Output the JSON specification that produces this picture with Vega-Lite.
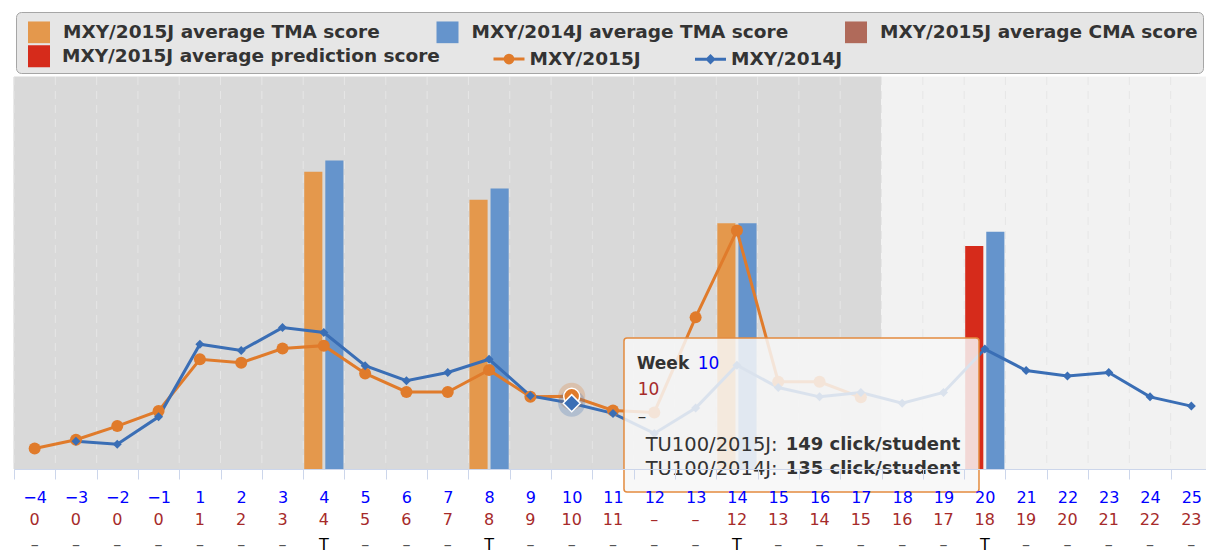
{
  "$schema": "https://vega.github.io/schema/vega-lite/v6.json",
  "width": 1198,
  "height": 392,
  "autosize": {"type": "none"},
  "padding": {"left": 14, "top": 77, "right": -6, "bottom": 81},
  "background": "white",
  "config": {"view": {"stroke": null}, "font": "DejaVu Sans", "text": {"font": "DejaVu Sans"}},
  "datasets": {
    "weeks": [
      {"week": -4, "phase": "past"}, {"week": -3, "phase": "past"}, {"week": -2, "phase": "past"}, {"week": -1, "phase": "past"},
      {"week": 1, "phase": "past"}, {"week": 2, "phase": "past"}, {"week": 3, "phase": "past"}, {"week": 4, "phase": "past"},
      {"week": 5, "phase": "past"}, {"week": 6, "phase": "past"}, {"week": 7, "phase": "past"}, {"week": 8, "phase": "past"},
      {"week": 9, "phase": "past"}, {"week": 10, "phase": "past"}, {"week": 11, "phase": "past"}, {"week": 12, "phase": "past"},
      {"week": 13, "phase": "past"}, {"week": 14, "phase": "past"}, {"week": 15, "phase": "past"}, {"week": 16, "phase": "past"},
      {"week": 17, "phase": "past"}, {"week": 18, "phase": "future"}, {"week": 19, "phase": "future"}, {"week": 20, "phase": "future"},
      {"week": 21, "phase": "future"}, {"week": 22, "phase": "future"}, {"week": 23, "phase": "future"}, {"week": 24, "phase": "future"},
      {"week": 25, "phase": "future"}
    ],
    "clicks": [
      {"week": -4, "series": "MXY/2015J", "clicks": 42},
      {"week": -3, "series": "MXY/2015J", "clicks": 60},
      {"week": -2, "series": "MXY/2015J", "clicks": 88},
      {"week": -1, "series": "MXY/2015J", "clicks": 119},
      {"week": 1, "series": "MXY/2015J", "clicks": 225},
      {"week": 2, "series": "MXY/2015J", "clicks": 218},
      {"week": 3, "series": "MXY/2015J", "clicks": 247},
      {"week": 4, "series": "MXY/2015J", "clicks": 253},
      {"week": 5, "series": "MXY/2015J", "clicks": 196},
      {"week": 6, "series": "MXY/2015J", "clicks": 158},
      {"week": 7, "series": "MXY/2015J", "clicks": 158},
      {"week": 8, "series": "MXY/2015J", "clicks": 203},
      {"week": 9, "series": "MXY/2015J", "clicks": 148},
      {"week": 10, "series": "MXY/2015J", "clicks": 149},
      {"week": 11, "series": "MXY/2015J", "clicks": 120},
      {"week": 12, "series": "MXY/2015J", "clicks": 116},
      {"week": 13, "series": "MXY/2015J", "clicks": 311},
      {"week": 14, "series": "MXY/2015J", "clicks": 489},
      {"week": 15, "series": "MXY/2015J", "clicks": 179},
      {"week": 16, "series": "MXY/2015J", "clicks": 179},
      {"week": 17, "series": "MXY/2015J", "clicks": 147},
      {"week": -3, "series": "MXY/2014J", "clicks": 57},
      {"week": -2, "series": "MXY/2014J", "clicks": 51},
      {"week": -1, "series": "MXY/2014J", "clicks": 107},
      {"week": 1, "series": "MXY/2014J", "clicks": 256},
      {"week": 2, "series": "MXY/2014J", "clicks": 243},
      {"week": 3, "series": "MXY/2014J", "clicks": 290},
      {"week": 4, "series": "MXY/2014J", "clicks": 280},
      {"week": 5, "series": "MXY/2014J", "clicks": 212},
      {"week": 6, "series": "MXY/2014J", "clicks": 181},
      {"week": 7, "series": "MXY/2014J", "clicks": 198},
      {"week": 8, "series": "MXY/2014J", "clicks": 225},
      {"week": 9, "series": "MXY/2014J", "clicks": 150},
      {"week": 10, "series": "MXY/2014J", "clicks": 135},
      {"week": 11, "series": "MXY/2014J", "clicks": 114},
      {"week": 12, "series": "MXY/2014J", "clicks": 73},
      {"week": 13, "series": "MXY/2014J", "clicks": 125},
      {"week": 14, "series": "MXY/2014J", "clicks": 213},
      {"week": 15, "series": "MXY/2014J", "clicks": 167},
      {"week": 16, "series": "MXY/2014J", "clicks": 148},
      {"week": 17, "series": "MXY/2014J", "clicks": 157},
      {"week": 18, "series": "MXY/2014J", "clicks": 135},
      {"week": 19, "series": "MXY/2014J", "clicks": 157},
      {"week": 20, "series": "MXY/2014J", "clicks": 246},
      {"week": 21, "series": "MXY/2014J", "clicks": 202},
      {"week": 22, "series": "MXY/2014J", "clicks": 191},
      {"week": 23, "series": "MXY/2014J", "clicks": 198},
      {"week": 24, "series": "MXY/2014J", "clicks": 148},
      {"week": 25, "series": "MXY/2014J", "clicks": 129}
    ],
    "bars": [
      {"week": 4, "series": "MXY/2015J average TMA score", "year": "2015J", "score": 76.2},
      {"week": 4, "series": "MXY/2014J average TMA score", "year": "2014J", "score": 79.1},
      {"week": 8, "series": "MXY/2015J average TMA score", "year": "2015J", "score": 69.0},
      {"week": 8, "series": "MXY/2014J average TMA score", "year": "2014J", "score": 71.9},
      {"week": 14, "series": "MXY/2015J average TMA score", "year": "2015J", "score": 63.0},
      {"week": 14, "series": "MXY/2014J average TMA score", "year": "2014J", "score": 63.0},
      {"week": 20, "series": "MXY/2015J average prediction score", "year": "2015J", "score": 57.2},
      {"week": 20, "series": "MXY/2014J average TMA score", "year": "2014J", "score": 60.8}
    ],
    "tip": [
      {"week": 10, "v2015": 149, "v2014": 135, "head": "Week", "wk": "10", "row2": "10", "row3": "–",
       "s1": "TU100/2015J:", "t1": "149 click/student", "s2": "TU100/2014J:", "t2": "135 click/student"}
    ]
  },
  "resolve": {"scale": {"y": "independent"}, "axis": {"x": "independent", "y": "independent"}},
  "layer": [
    {
      "data": {"name": "weeks"},
      "mark": {"type": "rect", "strokeWidth": 1},
      "encoding": {
        "x": {
          "field": "week", "type": "ordinal",
          "scale": {"type": "band", "domain": [-4,-3,-2,-1,1,2,3,4,5,6,7,8,9,10,11,12,13,14,15,16,17,18,19,20,21,22,23,24,25], "paddingInner": 0, "paddingOuter": 0},
          "axis": {
            "orient": "bottom", "title": null, "tickBand": "extent", "domain": true, "domainColor": "#ccd6eb",
            "ticks": true, "tickColor": "#ccd6eb", "tickSize": 10, "tickWidth": 1,
            "labelColor": "#0000ff", "labelFont": "DejaVu Sans", "labelFontSize": 16, "labelPadding": 10,
            "labelAngle": 0, "labelOverlap": false, "grid": false,
            "labelExpr": "replace(datum.label, '-', '−')"
          }
        },
        "color": {"condition": {"test": "datum.phase === 'past'", "value": "#d9d9d9"}, "value": "#f2f2f2"},
        "stroke": {"condition": {"test": "datum.phase === 'past'", "value": "#d9d9d9"}, "value": "#f2f2f2"}
      }
    },
    {
      "data": {"name": "weeks"},
      "mark": {"type": "rule", "color": "#e6e6e6", "strokeDash": [8, 6], "strokeWidth": 1},
      "encoding": {
        "x": {
          "field": "week", "type": "ordinal", "bandPosition": 0,
          "scale": {"type": "band", "domain": [-4,-3,-2,-1,1,2,3,4,5,6,7,8,9,10,11,12,13,14,15,16,17,18,19,20,21,22,23,24,25], "paddingInner": 0, "paddingOuter": 0},
          "axis": {
            "orient": "bottom", "title": null, "domain": false, "ticks": false, "tickSize": 0, "grid": false,
            "labelColor": "#a62a2a", "labelFont": "DejaVu Sans", "labelFontSize": 16, "labelPadding": 42.7,
            "labelAngle": 0, "labelOverlap": false,
            "labelExpr": "['0','0','0','0','1','2','3','4','5','6','7','8','9','10','11','–','–','12','13','14','15','16','17','18','19','20','21','22','23'][indexof([-4,-3,-2,-1,1,2,3,4,5,6,7,8,9,10,11,12,13,14,15,16,17,18,19,20,21,22,23,24,25], datum.value)]"
          }
        }
      }
    },
    {
      "data": {"name": "bars"},
      "mark": {"type": "bar", "xOffset": 2.5},
      "encoding": {
        "x": {
          "field": "week", "type": "ordinal",
          "scale": {"type": "band", "domain": [-4,-3,-2,-1,1,2,3,4,5,6,7,8,9,10,11,12,13,14,15,16,17,18,19,20,21,22,23,24,25], "paddingInner": 0, "paddingOuter": 0},
          "axis": {
            "orient": "bottom", "title": null, "domain": false, "ticks": false, "tickSize": 0, "grid": false,
            "labelFont": "DejaVu Sans", "labelFontSize": 16, "labelPadding": 67.2,
            "labelAngle": 0, "labelOverlap": false,
            "labelColor": {"condition": {"test": "indexof([4,8,14,20], datum.value) >= 0", "value": "#000000"}, "value": "#555555"},
            "labelExpr": "indexof([4,8,14,20], datum.value) >= 0 ? 'T' : '–'"
          }
        },
        "xOffset": {"field": "year", "type": "nominal", "scale": {"domain": ["2015J", "2014J"], "paddingInner": 0.14, "paddingOuter": 0.05}},
        "y": {"field": "score", "type": "quantitative", "scale": {"domain": [0, 100.5], "nice": false}, "axis": null},
        "fill": {
          "field": "series", "type": "nominal",
          "scale": {
            "domain": ["MXY/2015J average TMA score", "MXY/2014J average TMA score", "MXY/2015J average CMA score", "MXY/2015J average prediction score"],
            "range": ["#e4984c", "#6594cc", "#b06a5a", "#d62b1b"]
          },
          "legend": {
            "values": ["MXY/2015J average TMA score", "MXY/2014J average TMA score", "MXY/2015J average CMA score"],
            "title": " ", "titleOrient": "bottom", "titleFontSize": 14, "titlePadding": 11,
            "orient": "none", "legendX": 2, "legendY": -65, "zindex": 0,
            "direction": "horizontal", "columns": 0,
            "columnPadding": 48.5, "padding": 4.5,
            "fillColor": "#e6e6e6", "strokeColor": "#a6a6a6", "cornerRadius": 5,
            "symbolSize": 961, "symbolStrokeWidth": 0, "labelOffset": 11.5,
            "labelFont": "DejaVu Sans", "labelFontSize": 18.5, "labelFontWeight": "bold", "labelColor": "#333333", "labelLimit": 600,
            "symbolOpacity": 1,
            "encode": {
              "symbols": {
                "update": {
                  "shape": {"value": "M-0.516,-0.7H0.903V0.7H-0.516Z"},
                  "fill": {"scale": "fill", "field": "value"},
                  "opacity": {"value": 1}
                }
              }
            }
          }
        }
      }
    },
    {
      "encoding": {
        "x": {
          "field": "week", "type": "ordinal",
          "scale": {"type": "band", "domain": [-4,-3,-2,-1,1,2,3,4,5,6,7,8,9,10,11,12,13,14,15,16,17,18,19,20,21,22,23,24,25], "paddingInner": 0, "paddingOuter": 0},
          "axis": null
        }
      },
      "layer": [
        {
          "data": {"name": "clicks"},
          "mark": {"type": "line", "strokeWidth": 3},
          "encoding": {
            "y": {"field": "clicks", "type": "quantitative", "scale": {"domain": [0, 804], "nice": false},
                  "axis": {"orient": "left", "title": null, "values": [0, 200, 400, 600, 800], "labels": false, "domain": false, "grid": false, "ticks": true, "tickSize": 4, "tickWidth": 2, "tickColor": "#444444", "offset": 1}},
            "stroke": {"field": "series", "type": "nominal",
              "scale": {
                "domain": ["MXY/2015J average prediction score", "MXY/2015J", "MXY/2014J"],
                "range": ["#d62b1b", "#e07b2b", "#3a6eb5"]
              },
              "legend": {
                "title": null, "orient": "none", "legendX": 8, "legendY": -38, "zindex": 1,
                "direction": "horizontal", "columns": 0,
                "columnPadding": 46.5, "padding": 0,
                "symbolSize": 961, "symbolStrokeWidth": 3, "labelOffset": 6,
                "labelFont": "DejaVu Sans", "labelFontSize": 18.5, "labelFontWeight": "bold", "labelColor": "#333333", "labelLimit": 600,
                "symbolOpacity": 1,
                "encode": {
                  "symbols": {
                    "update": {
                      "shape": {"signal": "datum.value === 'MXY/2015J' ? 'M-0.839,0H1.161M-0.089,0A0.25,0.25 0 1 1 0.411,0A0.25,0.25 0 1 1 -0.089,0Z' : datum.value === 'MXY/2014J' ? 'M-0.839,0H1.161M0.161,-0.2L0.361,0L0.161,0.2L-0.039,0Z' : 'M-0.613,-0.613H0.613V0.613H-0.613Z'"},
                      "stroke": {"scale": "stroke", "field": "value"},
                      "fill": {"scale": "stroke", "field": "value"},
                      "opacity": {"value": 1}
                    }
                  }
                }
              }
            }
          }
        },
        {
          "data": {"name": "clicks"},
          "transform": [{"filter": "datum.series === 'MXY/2015J'"}],
          "mark": {"type": "point", "shape": "circle", "filled": true, "size": 144, "opacity": 1, "color": "#e07b2b"},
          "encoding": {
            "y": {"field": "clicks", "type": "quantitative", "scale": {"domain": [0, 804], "nice": false}, "axis": null}
          }
        },
        {
          "data": {"name": "clicks"},
          "transform": [{"filter": "datum.series === 'MXY/2014J'"}],
          "mark": {"type": "point", "shape": "diamond", "filled": true, "size": 81, "opacity": 1, "color": "#3a6eb5"},
          "encoding": {
            "y": {"field": "clicks", "type": "quantitative", "scale": {"domain": [0, 804], "nice": false}, "axis": null}
          }
        },
        {
          "data": {"name": "clicks"},
          "transform": [{"filter": "datum.week === 10"}],
          "mark": {"type": "point", "shape": "circle", "filled": true, "size": 729, "opacity": 0.25},
          "encoding": {
            "y": {"field": "clicks", "type": "quantitative", "scale": {"domain": [0, 804], "nice": false}, "axis": null},
            "color": {"condition": {"test": "datum.series === 'MXY/2015J'", "value": "#e07b2b"}, "value": "#3a6eb5"}
          }
        },
        {
          "data": {"name": "clicks"},
          "transform": [{"filter": "datum.week === 10 && datum.series === 'MXY/2015J'"}],
          "mark": {"type": "point", "shape": "circle", "filled": true, "size": 256, "opacity": 1, "fill": "#e07b2b", "stroke": "#ffffff", "strokeWidth": 1.5},
          "encoding": {
            "y": {"field": "clicks", "type": "quantitative", "scale": {"domain": [0, 804], "nice": false}, "axis": null}
          }
        },
        {
          "data": {"name": "clicks"},
          "transform": [{"filter": "datum.week === 10 && datum.series === 'MXY/2014J'"}],
          "mark": {"type": "point", "shape": "diamond", "filled": true, "size": 289, "opacity": 1, "fill": "#3a6eb5", "stroke": "#ffffff", "strokeWidth": 1.5},
          "encoding": {
            "y": {"field": "clicks", "type": "quantitative", "scale": {"domain": [0, 804], "nice": false}, "axis": null}
          }
        },
        {
          "data": {"name": "tip"},
          "mark": {"type": "rect", "width": 355, "xOffset": 229.8, "yOffset": -58.35, "y2Offset": 95.65,
                   "fill": "#f7f7f7", "fillOpacity": 0.85, "stroke": "#e38b3f", "strokeWidth": 1.5, "cornerRadius": 3, "clip": false},
          "encoding": {
            "y": {"field": "v2015", "type": "quantitative", "scale": {"domain": [0, 804], "nice": false}, "axis": null},
            "y2": {"field": "v2015"}
          }
        },
        {
          "data": {"name": "tip"},
          "mark": {"type": "text", "align": "left", "baseline": "middle", "dx": 65, "dy": -32.65, "fontSize": 17, "fontWeight": "bold", "color": "#333333"},
          "encoding": {
            "y": {"field": "v2015", "type": "quantitative", "scale": {"domain": [0, 804], "nice": false}, "axis": null},
            "text": {"field": "head"}
          }
        },
        {
          "data": {"name": "tip"},
          "mark": {"type": "text", "align": "left", "baseline": "middle", "dx": 126, "dy": -32.65, "fontSize": 17, "color": "#0000ff"},
          "encoding": {
            "y": {"field": "v2015", "type": "quantitative", "scale": {"domain": [0, 804], "nice": false}, "axis": null},
            "text": {"field": "wk"}
          }
        },
        {
          "data": {"name": "tip"},
          "mark": {"type": "text", "align": "left", "baseline": "middle", "dx": 66, "dy": -6.05, "fontSize": 17, "color": "#a62a2a"},
          "encoding": {
            "y": {"field": "v2015", "type": "quantitative", "scale": {"domain": [0, 804], "nice": false}, "axis": null},
            "text": {"field": "row2"}
          }
        },
        {
          "data": {"name": "tip"},
          "mark": {"type": "text", "align": "left", "baseline": "middle", "dx": 66, "dy": 20.65, "fontSize": 17, "color": "#333333"},
          "encoding": {
            "y": {"field": "v2015", "type": "quantitative", "scale": {"domain": [0, 804], "nice": false}, "axis": null},
            "text": {"field": "row3"}
          }
        },
        {
          "data": {"name": "tip"},
          "mark": {"type": "text", "align": "left", "baseline": "middle", "dx": 74, "dy": 48.15, "fontSize": 19.5, "color": "#333333"},
          "encoding": {
            "y": {"field": "v2015", "type": "quantitative", "scale": {"domain": [0, 804], "nice": false}, "axis": null},
            "text": {"field": "s1"}
          }
        },
        {
          "data": {"name": "tip"},
          "mark": {"type": "text", "align": "left", "baseline": "middle", "dx": 214, "dy": 48.15, "fontSize": 18, "fontWeight": "bold", "color": "#333333"},
          "encoding": {
            "y": {"field": "v2015", "type": "quantitative", "scale": {"domain": [0, 804], "nice": false}, "axis": null},
            "text": {"field": "t1"}
          }
        },
        {
          "data": {"name": "tip"},
          "mark": {"type": "text", "align": "left", "baseline": "middle", "dx": 74, "dy": 72.65, "fontSize": 19.5, "color": "#333333"},
          "encoding": {
            "y": {"field": "v2015", "type": "quantitative", "scale": {"domain": [0, 804], "nice": false}, "axis": null},
            "text": {"field": "s2"}
          }
        },
        {
          "data": {"name": "tip"},
          "mark": {"type": "text", "align": "left", "baseline": "middle", "dx": 214, "dy": 72.65, "fontSize": 18, "fontWeight": "bold", "color": "#333333"},
          "encoding": {
            "y": {"field": "v2015", "type": "quantitative", "scale": {"domain": [0, 804], "nice": false}, "axis": null},
            "text": {"field": "t2"}
          }
        }
      ]
    }
  ]
}
